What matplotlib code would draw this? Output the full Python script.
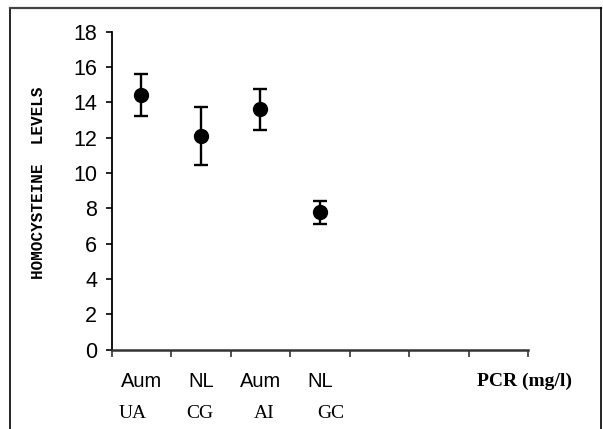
import matplotlib.pyplot as plt
from matplotlib.lines import Line2D

grupos = ["Aum", "NL", "Aum", "NL"]
siglas = ["UA", "CG", "AI", "GC"]
medias = [14.4, 12.1, 13.6, 7.77]
erros = [1.19, 1.63, 1.14, 0.66]
n_categorias = 7
y_ticks = [0, 2, 4, 6, 8, 10, 12, 14, 16, 18]

# deslocamento horizontal da segunda linha de rótulos (em unidades de categoria)
desloc_siglas = [-0.14, -0.02, 0.06, 0.19]

W, H = 603, 429
fig = plt.figure(figsize=(W / 100, H / 100), dpi=100)
ax = fig.add_axes([111.7 / W, 1 - 349.5 / H, (528.3 - 111.7) / W, (349.5 - 31.7) / H])

x = [i + 0.5 for i in range(len(medias))]
ax.errorbar(x, medias, yerr=erros, fmt="o", color="black", ms=10,
            elinewidth=1.7, capsize=4.8, capthick=1.7)

ax.set_xlim(0, n_categorias)
ax.set_ylim(0, 18)
ax.set_yticks(y_ticks)
ax.set_xticks(range(n_categorias + 1))
ax.set_xticklabels([])
for s in ["top", "right"]:
    ax.spines[s].set_visible(False)
ax.spines["left"].set_linewidth(1.3)
ax.spines["bottom"].set_linewidth(1.8)
ax.spines["bottom"].set_color("#333333")
ax.tick_params(axis="y", length=4, width=1.2, pad=6.5, labelsize=15.5,
               labelfontfamily="Liberation Sans")
ax.tick_params(axis="x", length=5, width=1.2, color="#333333")

trans = ax.get_xaxis_transform()
for i, (g, s) in enumerate(zip(grupos, siglas)):
    ax.text(x[i], -0.101, g, transform=trans, ha="center", va="center",
            fontsize=14.5, family="Liberation Sans")
    ax.text(x[i] + desloc_siglas[i], -0.2, s, transform=trans, ha="center",
            va="center", fontsize=14, family="Liberation Serif")
ax.text(6.93, -0.101, "PCR (mg/l)", transform=trans, ha="center", va="center",
        fontsize=14, family="Liberation Serif", fontweight="bold")

fig.text(39 / W, 1 - 183 / H, "HOMOCYSTEINE  LEVELS", rotation=90,
         ha="center", va="center", fontsize=11.5, family="Liberation Mono",
         fontweight="bold")

# moldura da figura (sem linha inferior)
yt = 1 - 7.5 / H
fig.add_artist(Line2D([10 / W, 10 / W], [0, yt], color="black", lw=1.2))
fig.add_artist(Line2D([10 / W, 601 / W], [yt, yt], color="#444444", lw=1.6))
fig.add_artist(Line2D([601 / W, 601 / W], [0, yt], color="black", lw=1.2))

fig.savefig("out.png", dpi=100)
